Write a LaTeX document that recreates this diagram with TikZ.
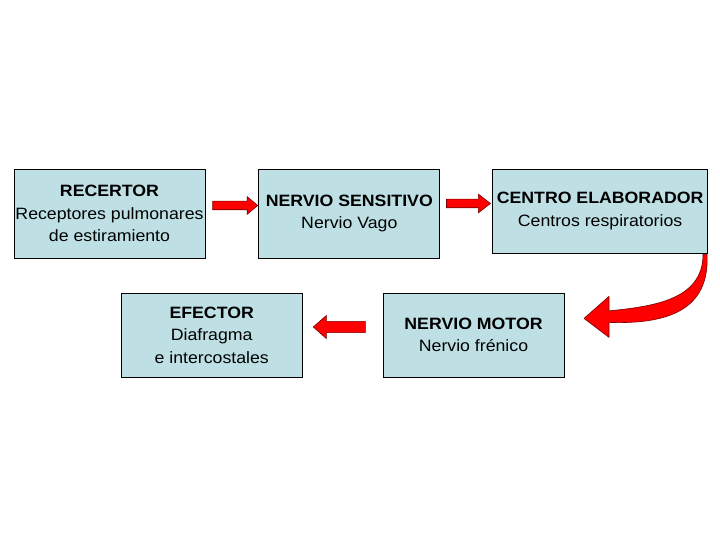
\documentclass[tikz,border=0pt]{standalone}
\usepackage{fontspec}
\setmainfont{Liberation Sans}[FakeStretch=1.08]
\usetikzlibrary{shapes.arrows, positioning, calc}
\definecolor{boxfill}{RGB}{190,224,229}
\definecolor{arrowline}{RGB}{120,0,0}

\begin{document}
\begin{tikzpicture}[
    x=1pt, y=-1pt,
    font=\fontsize{16.4}{22.5}\selectfont,
    stage/.style={rectangle, draw=black, line width=0.8pt, fill=boxfill, minimum width=181pt, minimum height=84pt, inner sep=0pt, align=center},
    blockarrow/.style={single arrow, draw=arrowline, fill=red, line width=0.6pt, inner sep=4pt, inner xsep=0pt, single arrow head extend=4.5pt, single arrow tip angle=80, minimum height=45pt}
]
    \useasboundingbox (0,0) rectangle (720,540);

    % Upper row
    \node[stage, minimum width=191pt, minimum height=89pt] (receptor) at (109.5,213.5) {\textbf{RECERTOR}\\Receptores pulmonares\\de estiramiento};
    \node[stage, minimum height=89pt, right=53pt of receptor] (sensitivo) {\textbf{NERVIO SENSITIVO}\\Nervio Vago};
    \node[stage, minimum width=215pt, right=52pt of sensitivo.north east, anchor=north west] (centro) {\textbf{CENTRO ELABORADOR}\\Centros respiratorios};

    % Lower row
    \node[stage] (motor) at (473.5,335) {\textbf{NERVIO MOTOR}\\Nervio frénico};
    \node[stage, left=80pt of motor] (efector) {\textbf{EFECTOR}\\Diafragma\\e intercostales};

    % Arrows between the boxes
    \node[blockarrow, right=7pt of receptor, yshift=8pt] (flecha1) {};
    \node[blockarrow, minimum height=44pt, single arrow head extend=5pt, single arrow tip angle=75, right=6pt of sensitivo, yshift=10pt] (flecha2) {};
    \node[blockarrow, shape border rotate=180, minimum height=52pt, inner sep=5.3pt, inner xsep=0pt, single arrow head extend=6pt, single arrow tip angle=83, left=17pt of motor, yshift=8pt] (flecha3) {};

    % Curved arrow from centro down to motor
    \begin{scope}[shift={(centro.south east)}]
        \fill[red, draw=arrowline, line width=0.6pt, line join=round]
            (-5,1) .. controls (-5,47) and (-56,53) .. (-99,57.5)
            -- (-99,43) -- (-124,65) -- (-99,84) -- (-99,69)
            .. controls (-41,71) and (2,57) .. (-1,1) -- cycle;
    \end{scope}
\end{tikzpicture}
\end{document}
